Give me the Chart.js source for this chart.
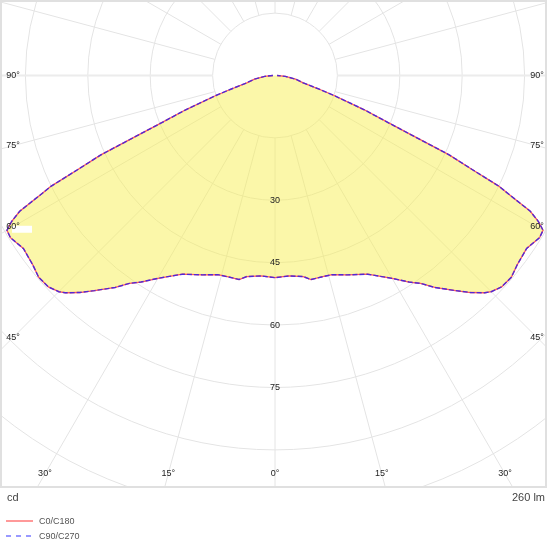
<!DOCTYPE html>
<html>
<head>
<meta charset="utf-8">
<script src="https://cdn.jsdelivr.net/npm/chart.js@4.4.1/dist/chart.umd.min.js"></script>
<style>
  html, body { margin: 0; padding: 0; background: #fff; }
  #wrap { width: 550px; height: 550px; }
</style>
</head>
<body>
<div id="wrap"><canvas id="polarChart" width="550" height="550"></canvas></div>
<script>
// gamma angles (deg from nadir) and intensities (cd), same on both sides
const gammaAngles = [0, 4, 8, 10, 13, 16, 20, 25, 30, 33, 35, 37, 40, 42, 44, 45, 47, 49.5, 52, 55.5, 58.5, 60, 61, 62, 63, 63.7, 64.5, 65.5, 67.3, 69, 71.3, 72.7, 75.5, 80, 85, 90];
const c0c180 = [48.6, 48.3, 48.8, 49.8, 49.7, 49.8, 51.0, 52.7, 56.3, 59.2, 61.0, 63.8, 67.5, 70.2, 72.6, 73.5, 74.5, 74.7, 73.9, 73.4, 74.6, 74.4, 72.4, 69.5, 63.5, 60.0, 52.5, 46.0, 30.0, 23.0, 15.0, 11.3, 7.0, 5.0, 2.5, 0.5];
const c90c270 = [48.6, 48.3, 48.8, 49.8, 49.7, 49.8, 51.0, 52.7, 56.3, 59.2, 61.0, 63.8, 67.5, 70.2, 72.6, 73.5, 74.5, 74.7, 73.9, 73.4, 74.6, 74.4, 72.4, 69.5, 63.5, 60.0, 52.5, 46.0, 30.0, 23.0, 15.0, 11.3, 7.0, 5.0, 2.5, 0.5];

const ringValues = [15, 30, 45, 60, 75, 90, 105, 120];
const ringLabels = ['30', '45', '60', '75'];
const angleTicks = [0, 15, 30, 45, 60, 75, 90];
const seriesNames = ['C0/C180', 'C90/C270'];
const unitLabel = 'cd';
const fluxLabel = '260 lm';

// polar (gamma, I) -> x/y in cd, left half then right half
function toPoints(values) {
  const pts = [];
  for (let i = gammaAngles.length - 1; i >= 0; i--) {
    const a = -gammaAngles[i] * Math.PI / 180;
    pts.push({ x: values[i] * Math.sin(a), y: -values[i] * Math.cos(a) });
  }
  for (let i = 1; i < gammaAngles.length; i++) {
    const a = gammaAngles[i] * Math.PI / 180;
    pts.push({ x: values[i] * Math.sin(a), y: -values[i] * Math.cos(a) });
  }
  return pts;
}

const polarGrid = {
  id: 'polarGrid',
  beforeDatasetsDraw(chart) {
    const { ctx, chartArea, scales } = chart;
    const cx = scales.x.getPixelForValue(0);
    const cy = scales.y.getPixelForValue(0);
    const k = scales.x.getPixelForValue(1) - cx;
    ctx.save();
    ctx.beginPath();
    ctx.rect(chartArea.left, chartArea.top, chartArea.right - chartArea.left, chartArea.bottom - chartArea.top);
    ctx.clip();
    ctx.strokeStyle = '#e4e4e4';
    ctx.lineWidth = 1;
    ringValues.forEach(v => {
      ctx.beginPath();
      ctx.arc(cx, cy, v * k, 0, Math.PI * 2);
      ctx.stroke();
    });
    for (let deg = 0; deg < 360; deg += 15) {
      const a = deg * Math.PI / 180;
      const r0 = ringValues[0] * k;
      const r1 = 200 * k;
      ctx.beginPath();
      ctx.lineWidth = (deg === 90 || deg === 270) ? 2 : 1;
      ctx.strokeStyle = (deg === 90 || deg === 270) ? '#ececec' : '#e4e4e4';
      ctx.moveTo(cx + r0 * Math.sin(a), cy + r0 * Math.cos(a));
      ctx.lineTo(cx + r1 * Math.sin(a), cy + r1 * Math.cos(a));
      ctx.stroke();
    }
    ctx.restore();
  },
  afterDatasetsDraw(chart) {
    const { ctx, chartArea, scales } = chart;
    const cx = scales.x.getPixelForValue(0);
    const cy = scales.y.getPixelForValue(0);
    const k = scales.x.getPixelForValue(1) - cx;
    ctx.save();
    // panel border
    ctx.strokeStyle = '#e0e0e0';
    ctx.lineWidth = 2;
    ctx.strokeRect(chartArea.left + 1, chartArea.top + 1, chartArea.right - chartArea.left - 2, chartArea.bottom - chartArea.top - 1);

    ctx.font = '9px "Liberation Sans", Arial, sans-serif';
    ctx.fillStyle = '#222';
    ctx.textAlign = 'center';
    ctx.textBaseline = 'middle';
    ringLabels.forEach(t => {
      ctx.fillText(t, cx, cy + Number(t) * k);
    });

    // angle labels along an inset box
    const left = chartArea.left + 13, right = chartArea.right - 10, bottom = chartArea.bottom - 13;
    angleTicks.forEach(deg => {
      [-1, 1].forEach(side => {
        if (deg === 0 && side === 1) return;
        const a = deg * Math.PI / 180;
        const dx = side * Math.sin(a), dy = Math.cos(a);
        let t = Infinity;
        if (dx < -1e-6) t = Math.min(t, (left - cx) / dx);
        if (dx > 1e-6) t = Math.min(t, (right - cx) / dx);
        if (dy > 1e-6) t = Math.min(t, (bottom - cy) / dy);
        const px = cx + t * dx, py = cy + t * dy;
        if (deg === 60 && side === -1) {
          ctx.fillStyle = '#fff';
          ctx.fillRect(px - 1, py - 1, 20, 7);
          ctx.fillStyle = '#222';
        }
        ctx.fillText(deg + '°', px, py);
      });
    });

    // unit and flux
    ctx.fillStyle = '#444';
    ctx.font = '11px "Liberation Sans", Arial, sans-serif';
    ctx.textAlign = 'left';
    ctx.fillText(unitLabel, 7, 498);
    ctx.textAlign = 'right';
    ctx.fillText(fluxLabel, 545, 498);

    // legend
    ctx.font = '9px "Liberation Sans", Arial, sans-serif';
    ctx.textAlign = 'left';
    ctx.fillStyle = '#555';
    ctx.lineWidth = 2;
    ctx.strokeStyle = '#ff9999';
    ctx.beginPath(); ctx.moveTo(6, 521); ctx.lineTo(33, 521); ctx.stroke();
    ctx.fillText(seriesNames[0], 39, 522);
    ctx.strokeStyle = '#9999ff';
    ctx.setLineDash([5, 5]);
    ctx.beginPath(); ctx.moveTo(6, 536); ctx.lineTo(33, 536); ctx.stroke();
    ctx.setLineDash([]);
    ctx.fillText(seriesNames[1], 39, 537);
    ctx.restore();
  }
};

const pxPerCd = 4.16;
const ctx = document.getElementById('polarChart').getContext('2d');
const chart = new Chart(ctx, {
  type: 'scatter',
  data: {
    datasets: [
      {
        label: 'fill',
        data: toPoints(c0c180),
        showLine: true,
        fill: 'shape',
        backgroundColor: 'rgba(247, 240, 84, 0.5)',
        borderWidth: 0,
        borderColor: 'rgba(0,0,0,0)',
        pointRadius: 0,
        tension: 0,
        order: 3
      },
      {
        label: seriesNames[0],
        data: toPoints(c0c180),
        showLine: true,
        borderColor: '#ff5a5a',
        borderWidth: 1.3,
        pointRadius: 0,
        tension: 0,
        order: 2
      },
      {
        label: seriesNames[1],
        data: toPoints(c90c270),
        showLine: true,
        borderColor: '#5128d6',
        borderWidth: 1.4,
        borderDash: [5, 2],
        pointRadius: 0,
        tension: 0,
        order: 1
      }
    ]
  },
  options: {
    responsive: false,
    animation: false,
    layout: { padding: { left: 0, top: 0, right: 3, bottom: 63 } },
    scales: {
      x: { type: 'linear', display: false, min: -275 / pxPerCd, max: 272 / pxPerCd },
      y: { type: 'linear', display: false, min: -411.5 / pxPerCd, max: 75.5 / pxPerCd }
    },
    plugins: {
      legend: { display: false },
      tooltip: { enabled: false }
    }
  },
  plugins: [polarGrid]
});
</script>
</body>
</html>
